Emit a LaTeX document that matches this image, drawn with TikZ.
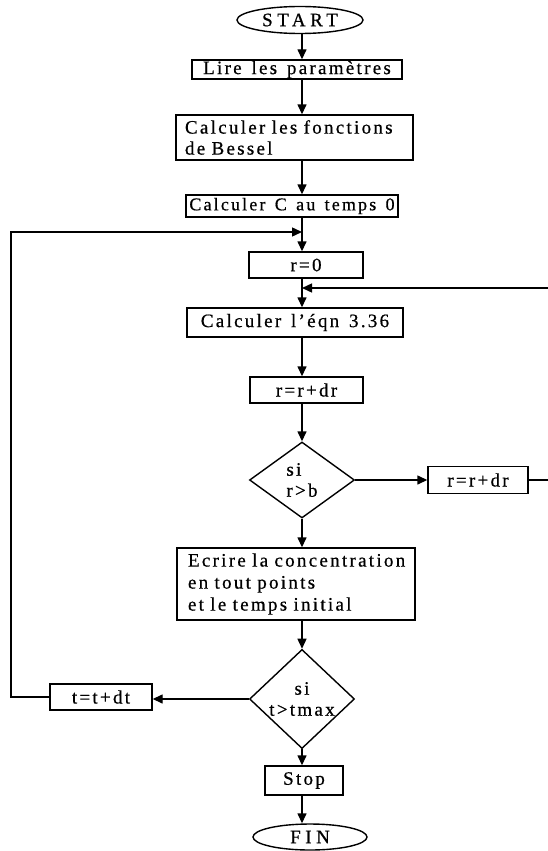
\documentclass[tikz,border=0pt]{standalone}
\usepackage{fontspec}
\setmainfont{Liberation Serif}[LetterSpace=12, WordSpace=1.4, FakeBold=0.6]
\newfontfamily\widefont{Liberation Serif}[LetterSpace=24, FakeBold=0.6]
\usetikzlibrary{shapes.geometric,arrows.meta}
\tikzset{
  basefont/.style={font=\fontsize{19}{21}\selectfont},
  box/.style={draw, line width=1.4pt, inner xsep=3pt, inner ysep=0pt, basefont},
  dia/.style={draw, diamond, line width=1.4pt, inner sep=0pt, basefont},
  term/.style={draw, ellipse, line width=1.4pt, inner sep=0pt, font=\widefont\fontsize{19}{21}\selectfont},
  arr/.style={line width=1.4pt, -{Triangle[length=10pt,width=9pt]}},
}
\begin{document}
\begin{tikzpicture}[x=1pt,y=-1pt]
\useasboundingbox[fill=white] (0,0) rectangle (547,851);
\coordinate (ax) at (302,0);
\node[term, minimum width=126pt, minimum height=27pt] (start) at (300,20) {START};
\node[box, minimum width=210pt, minimum height=19pt] (lire) at (297,69.5) {Lire les paramètres};
\node[box, minimum width=237pt, minimum height=45pt, inner xsep=9pt, text width=219pt, align=left,
      font=\fontsize{19}{21}\selectfont] (bessel) at (294.5,137.5) {\mbox{Calculer les fonctions}\\de Bessel};
\node[box, minimum width=212pt, minimum height=22pt, inner xsep=0pt, font=\fontsize{18}{20}\selectfont] (calcC) at (292,206) {Calculer C au temps 0};
\node[box, minimum width=114pt, minimum height=26pt] (r0) at (306,265) {r=0};
\node[box, minimum width=216pt, minimum height=29pt] (eqn) at (295,322.5) {Calculer l'éqn 3.36};
\node[box, minimum width=113pt, minimum height=26pt] (rdr) at (306.5,390) {r=r+dr};
\node[dia, minimum width=105pt, minimum height=76pt, align=left] (d1) at (302,480) {si\\r>b};
\node[box, minimum width=100pt, minimum height=27pt] (rdr2) at (478,480) {r=r+dr};
\node[box, minimum width=238pt, minimum height=72pt, inner xsep=11pt, text width=216pt, align=left,
      font=\fontsize{19}{22}\selectfont] (ecrire) at (296,584)
      {\mbox{Ecrire la concentration}\\en tout points\\et le temps initial};
\node[dia, minimum width=105pt, minimum height=78pt, align=center] (d2) at (302,699) {si\\t>tmax};
\node[box, minimum width=102pt, minimum height=26pt] (tdt) at (101,697) {t=t+dt};
\node[box, minimum width=78pt, minimum height=29pt] (stop) at (304,780.5) {Stop};
\node[term, minimum width=114pt, minimum height=26pt] (fin) at (310,837) {FIN};
% main flow
\draw[arr] (ax |- start.south) -- (ax |- lire.north);
\draw[arr] (ax |- lire.south) -- (ax |- bessel.north);
\draw[arr] (ax |- bessel.south) -- (ax |- calcC.north);
\draw[arr] (ax |- calcC.south) -- (ax |- r0.north);
\draw[arr] (ax |- r0.south) -- (ax |- eqn.north);
\draw[arr] (ax |- eqn.south) -- (ax |- rdr.north);
\draw[arr] (ax |- rdr.south) -- (d1.north);
\draw[arr] (d1.south) -- (ax |- ecrire.north);
\draw[arr] (ax |- ecrire.south) -- (d2.north);
\draw[arr] (d2.south) -- (ax |- stop.north);
\draw[arr] (ax |- stop.south) -- (ax |- fin.north);
% inner loop (r)
\coordinate (R) at (553,288);
\draw[arr] (d1.east) -- (rdr2.west);
\draw[arr] (rdr2.east) -- (rdr2.east -| R) -- (R) -- (ax |- R);
% outer loop (t)
\coordinate (L) at (11,232);
\draw[arr] (d2.west) -- (d2.west -| tdt.east);
\draw[arr] (tdt.west) -- (tdt.west -| L) -- (L) -- (ax |- L);
\end{tikzpicture}
\end{document}
